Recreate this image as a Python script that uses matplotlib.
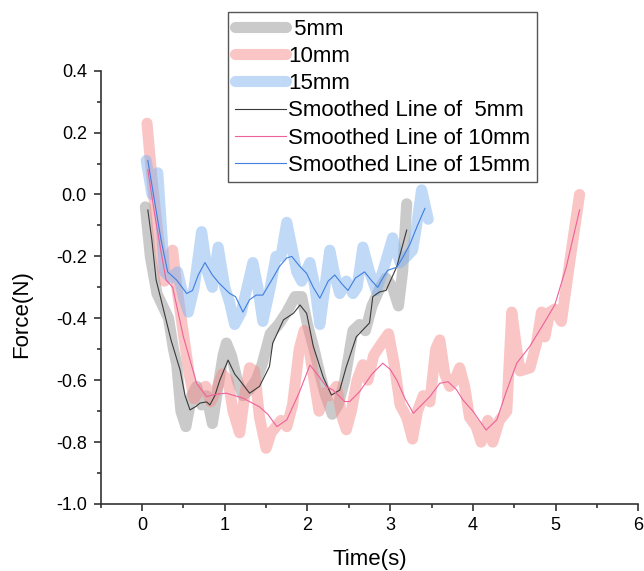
import matplotlib
matplotlib.use("Agg")
import matplotlib.pyplot as plt
from matplotlib.ticker import MultipleLocator

plt.rcParams['font.family'] = ['Liberation Sans', 'DejaVu Sans']

# ---- data ----
x5 = [0.04, 0.10, 0.18, 0.25, 0.32, 0.38, 0.42, 0.47, 0.53, 0.60, 0.66, 0.72, 0.78, 0.85, 0.92,
      0.98, 1.02, 1.08, 1.15, 1.22, 1.30, 1.38, 1.45, 1.55, 1.65, 1.75, 1.85, 1.93, 2.00, 2.08,
      2.15, 2.22, 2.30, 2.37, 2.45, 2.55, 2.63, 2.70, 2.78, 2.88, 2.95, 3.03, 3.10, 3.15, 3.20]
y5 = [-0.04, -0.20, -0.32, -0.36, -0.40, -0.50, -0.55, -0.70, -0.75, -0.65, -0.62, -0.68, -0.65, -0.74, -0.62,
      -0.52, -0.48, -0.52, -0.60, -0.65, -0.63, -0.60, -0.55, -0.45, -0.42, -0.38, -0.33, -0.33, -0.42, -0.50,
      -0.58, -0.65, -0.71, -0.68, -0.60, -0.44, -0.42, -0.44, -0.36, -0.30, -0.27, -0.30, -0.36, -0.25, -0.03]

x10 = [0.06, 0.12, 0.20, 0.27, 0.33, 0.37, 0.42, 0.50, 0.57, 0.63, 0.70, 0.77, 0.83, 0.90, 0.97,
       1.04, 1.10, 1.18, 1.24, 1.30, 1.36, 1.42, 1.50, 1.56, 1.62, 1.68, 1.75, 1.82, 1.90, 1.96,
       2.02, 2.08, 2.14, 2.20, 2.27, 2.35, 2.42, 2.47, 2.53, 2.60, 2.67, 2.73, 2.80, 2.90, 2.98,
       3.05, 3.12, 3.20, 3.27, 3.33, 3.40, 3.48, 3.55, 3.60, 3.66, 3.72, 3.78, 3.84, 3.90, 3.96,
       4.04, 4.10, 4.18, 4.24, 4.32, 4.41, 4.47, 4.53, 4.57, 4.69, 4.77, 4.83, 4.87, 4.93, 4.99,
       5.07, 5.17, 5.29]
y10 = [0.23, 0.05, -0.15, -0.28, -0.20, -0.18, -0.30, -0.45, -0.58, -0.66, -0.63, -0.62, -0.67, -0.63, -0.58,
       -0.60, -0.70, -0.77, -0.65, -0.56, -0.57, -0.72, -0.82, -0.77, -0.75, -0.73, -0.75, -0.68, -0.50, -0.44,
       -0.50, -0.60, -0.70, -0.64, -0.65, -0.62, -0.72, -0.76, -0.70, -0.60, -0.55, -0.60, -0.52, -0.48, -0.45,
       -0.55, -0.68, -0.72, -0.79, -0.70, -0.65, -0.67, -0.50, -0.47, -0.58, -0.62, -0.60, -0.56, -0.62, -0.72,
       -0.75, -0.80, -0.73, -0.80, -0.73, -0.70, -0.38, -0.50, -0.57, -0.56, -0.48, -0.38, -0.46, -0.38, -0.37,
       -0.41, -0.22, 0.00]

x15 = [0.05, 0.12, 0.19, 0.27, 0.35, 0.43, 0.50, 0.56, 0.63, 0.72, 0.79, 0.85, 0.92, 1.00, 1.06,
       1.12, 1.20, 1.27, 1.34, 1.40, 1.46, 1.55, 1.62, 1.68, 1.75, 1.81, 1.87, 1.93, 2.03, 2.09,
       2.15, 2.21, 2.27, 2.33, 2.39, 2.47, 2.55, 2.60, 2.67, 2.75, 2.83, 2.91, 3.03, 3.12, 3.20,
       3.27, 3.32, 3.38, 3.46]
y15 = [0.11, 0.00, 0.07, -0.25, -0.27, -0.25, -0.33, -0.38, -0.30, -0.12, -0.25, -0.30, -0.17, -0.30, -0.35,
       -0.42, -0.38, -0.30, -0.22, -0.30, -0.41, -0.30, -0.20, -0.20, -0.09, -0.17, -0.25, -0.28, -0.22, -0.30,
       -0.42, -0.30, -0.18, -0.26, -0.32, -0.28, -0.32, -0.30, -0.17, -0.25, -0.31, -0.25, -0.14, -0.22, -0.20,
       -0.18, -0.10, 0.015, -0.08]

xs5 = [0.07, 0.12, 0.17, 0.23, 0.29, 0.35, 0.46, 0.52, 0.58, 0.65, 0.70, 0.78, 0.82, 0.88, 0.94,
       1.04, 1.12, 1.18, 1.30, 1.42, 1.54, 1.58, 1.71, 1.83, 1.91, 1.99, 2.07, 2.19, 2.29, 2.39,
       2.47, 2.59, 2.75, 2.79, 2.87, 2.95, 3.08, 3.20]
ys5 = [-0.05, -0.15, -0.276, -0.34, -0.405, -0.47, -0.567, -0.65, -0.696, -0.685, -0.674, -0.67, -0.68, -0.65, -0.60,
       -0.535, -0.58, -0.60, -0.642, -0.62, -0.556, -0.48, -0.405, -0.384, -0.357, -0.384, -0.49, -0.59, -0.648, -0.632,
       -0.556, -0.46, -0.415, -0.33, -0.315, -0.31, -0.233, -0.115]

xs10 = [0.07, 0.15, 0.22, 0.29, 0.37, 0.50, 0.66, 0.78, 0.90, 1.02, 1.22, 1.42, 1.52, 1.63, 1.75,
        1.90, 2.03, 2.13, 2.23, 2.31, 2.45, 2.51, 2.63, 2.78, 2.91, 3.00, 3.08, 3.18, 3.28, 3.38,
        3.48, 3.60, 3.70, 3.80, 3.88, 4.00, 4.16, 4.29, 4.40, 4.53, 4.69, 4.85, 4.99, 5.13, 5.29]
ys10 = [0.08, -0.06, -0.17, -0.276, -0.30, -0.46, -0.61, -0.653, -0.645, -0.642, -0.658, -0.686, -0.71, -0.75, -0.728,
        -0.64, -0.551, -0.585, -0.621, -0.632, -0.669, -0.669, -0.637, -0.58, -0.545, -0.565, -0.60, -0.66, -0.707, -0.68,
        -0.653, -0.61, -0.605, -0.63, -0.664, -0.70, -0.761, -0.728, -0.64, -0.545, -0.49, -0.42, -0.357, -0.233, -0.05]

xs15 = [0.07, 0.15, 0.23, 0.31, 0.42, 0.54, 0.61, 0.68, 0.76, 0.85, 0.93, 1.06, 1.13, 1.22, 1.30,
        1.38, 1.46, 1.56, 1.66, 1.75, 1.81, 1.90, 1.99, 2.07, 2.15, 2.25, 2.33, 2.42, 2.49, 2.58,
        2.69, 2.78, 2.85, 2.91, 2.97, 3.08, 3.16, 3.24, 3.33, 3.42]
ys15 = [0.11, -0.02, -0.147, -0.25, -0.277, -0.32, -0.31, -0.26, -0.22, -0.26, -0.286, -0.32, -0.33, -0.38, -0.34,
        -0.325, -0.325, -0.28, -0.233, -0.205, -0.20, -0.23, -0.255, -0.30, -0.335, -0.28, -0.26, -0.29, -0.31, -0.27,
        -0.25, -0.28, -0.30, -0.27, -0.245, -0.235, -0.20, -0.16, -0.10, -0.045]

labels = [' 5mm', '10mm', '15mm', 'Smoothed Line of  5mm', 'Smoothed Line of 10mm', 'Smoothed Line of 15mm']
thick_colors = ['#969696', '#f58c8c', '#82b4f0']
thin_colors = ['#3a3a3a', '#f0609a', '#3f7fe0']

# ---- figure ----
fig = plt.figure(figsize=(6.44, 5.71), dpi=100)
ax = fig.add_axes([100.7 / 644, 1 - 504 / 571, 537.6 / 644, 433.3 / 571])

handles = []
for (xx, yy), c in zip([(x5, y5), (x10, y10), (x15, y15)], thick_colors):
    h, = ax.plot(xx, yy, color=c, lw=8, alpha=0.5, solid_capstyle='round', solid_joinstyle='round')
    handles.append(h)
for (xx, yy), c in zip([(xs5, ys5), (xs10, ys10), (xs15, ys15)], thin_colors):
    h, = ax.plot(xx, yy, color=c, lw=0.8)
    handles.append(h)

ax.set_xlim(-0.5, 6)
ax.set_ylim(-1.0, 0.4)
ax.xaxis.set_major_locator(MultipleLocator(1))
ax.xaxis.set_minor_locator(MultipleLocator(0.5))
ax.yaxis.set_major_locator(MultipleLocator(0.2))
ax.yaxis.set_minor_locator(MultipleLocator(0.1))
ax.yaxis.set_major_formatter(matplotlib.ticker.FormatStrFormatter('%.1f'))

for s in ['top', 'right']:
    ax.spines[s].set_visible(False)
for s in ['left', 'bottom']:
    ax.spines[s].set_linewidth(1.2)
    ax.spines[s].set_color('#333333')
ax.tick_params(which='major', direction='out', length=5, width=1.2, color='#333333', labelsize=13, pad=4)
ax.tick_params(which='minor', direction='out', length=3, width=1.2, color='#333333')
ax.tick_params(axis='y', which='major', pad=5)

fig.text(370 / 644, 1 - 559 / 571, 'Time(s)', ha='center', va='center', fontsize=16)
fig.text(22 / 644, 1 - 314 / 571, 'Force(N)', ha='center', va='center', fontsize=16, rotation=90)

leg = fig.legend(handles, labels, loc='upper left', bbox_to_anchor=(228 / 644, 1 - 12 / 571),
                 borderaxespad=0, fontsize=16, labelspacing=0.28, handlelength=2.3,
                 handletextpad=0.12, borderpad=0.3, fancybox=False, framealpha=1)
leg.get_frame().set_edgecolor('#555555')
leg.get_frame().set_linewidth(1.0)
for lh in leg.get_lines()[:3]:
    lh.set_alpha(0.5)

fig.savefig('out.png', dpi=100)
